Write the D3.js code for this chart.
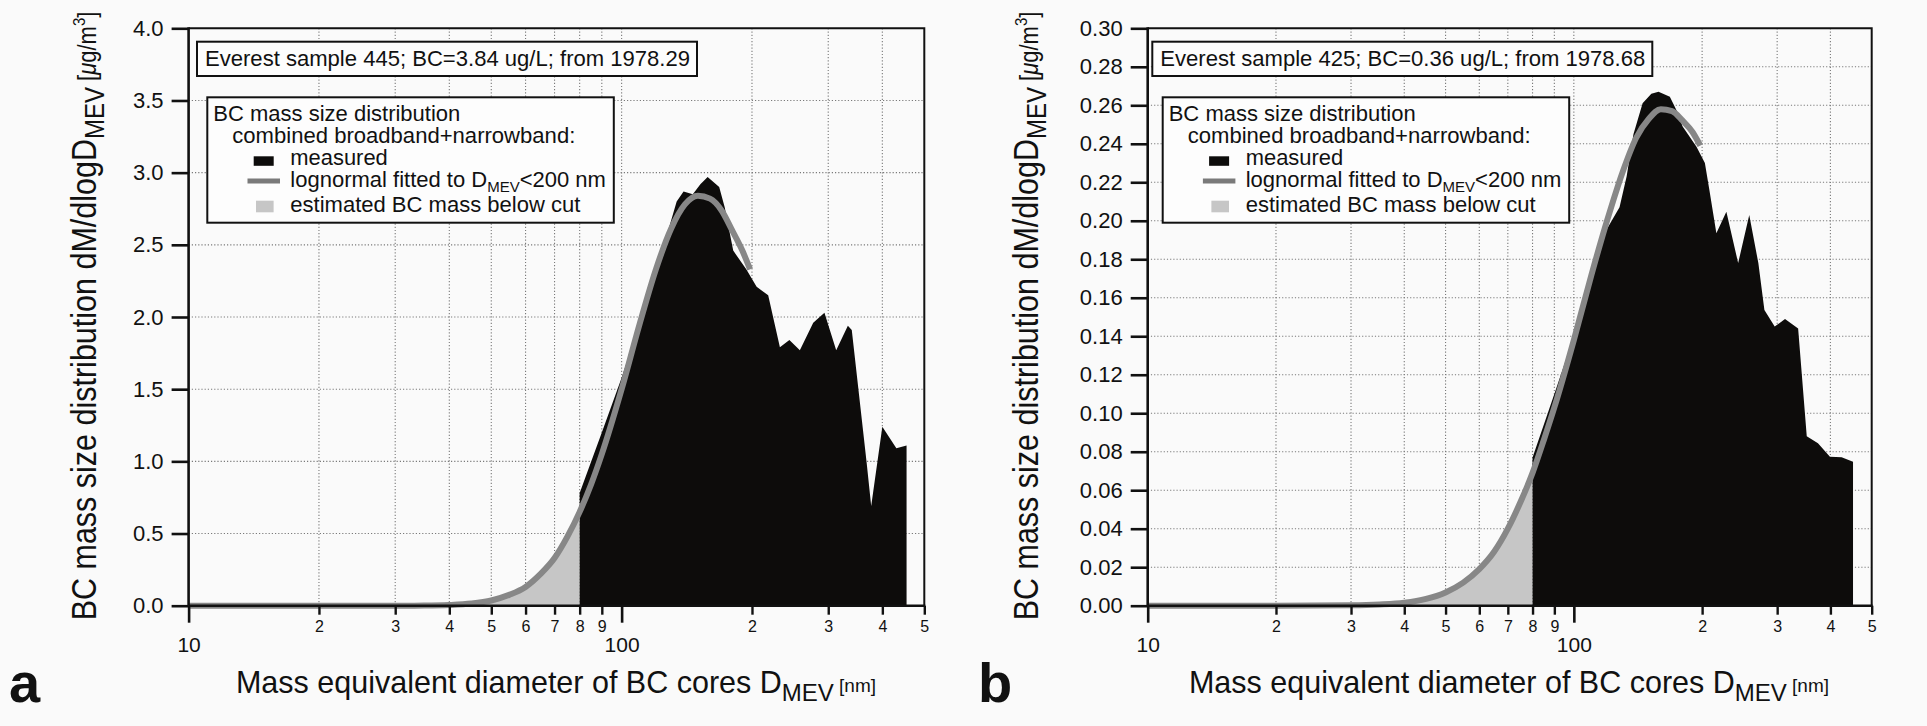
<!DOCTYPE html>
<html>
<head>
<meta charset="utf-8">
<script src="https://cdn.jsdelivr.net/npm/d3@7"></script>
<style>
body { margin: 0; background: #fafafa; }
svg { display: block; font-family: "Liberation Sans", Arial, Helvetica, sans-serif; }
</style>
</head>
<body>
<svg id="chart"></svg>
<script>
// ---- data ----
// panel a: Everest sample 445
const measuredA = [[80,0.78],[90,1.20],[100,1.58],[112,2.03],[122,2.40],[129,2.63],[134,2.80],[139,2.87],
  [146,2.85],[152,2.92],[158,2.97],[168,2.90],[173,2.76],[181,2.46],[194,2.33],[205,2.21],[218,2.15],
  [232,1.79],[244,1.84],[258,1.77],[277,1.96],[294,2.03],[313,1.77],[333,1.94],[340,1.91],[368,0.99],
  [377,0.69],[400,1.24],[431,1.09],[455,1.11]];
const fitA = [[10,0],[20,0],[30,0],[35,0.001],[40,0.005],[45,0.015],[50,0.036],[55,0.075],[60,0.13],
  [65,0.22],[70,0.33],[75,0.48],[80,0.65],[85,0.84],[90,1.05],[100,1.50],[110,1.95],[120,2.33],
  [130,2.61],[140,2.78],[150,2.84],[160,2.82],[170,2.74],[180,2.60],[190,2.46],[198,2.33]];

// panel b: Everest sample 425
const measuredB = [[80,0.077],[90,0.110],[100,0.140],[110,0.168],[119,0.195],[128,0.207],[133,0.223],
  [138,0.245],[145,0.261],[152,0.266],[158,0.267],[168,0.2645],[174,0.2575],[180,0.249],[194,0.2385],
  [203,0.230],[208,0.216],[216,0.1935],[228,0.2047],[243,0.178],[258,0.203],[271,0.178],[280,0.1536],
  [296,0.145],[313,0.149],[336,0.144],[352,0.088],[374,0.0844],[399,0.0774],[425,0.0771],[452,0.0748]];
const fitB = [[10,0],[20,0],[30,0.0002],[35,0.0006],[40,0.0015],[45,0.0035],[50,0.0069],[55,0.012],
  [60,0.019],[65,0.028],[70,0.040],[75,0.054],[80,0.069],[85,0.086],[90,0.103],[100,0.138],[110,0.172],
  [120,0.201],[130,0.225],[140,0.243],[150,0.253],[160,0.258],[170,0.257],[180,0.252],[190,0.246],[198,0.239]];

const cutD = 80;

// ticks
const yTicksA = [0,0.5,1.0,1.5,2.0,2.5,3.0,3.5,4.0];
const yTicksB = [0,0.02,0.04,0.06,0.08,0.10,0.12,0.14,0.16,0.18,0.20,0.22,0.24,0.26,0.28,0.30];
const xMajor = [10,100];
const xMinor = [20,30,40,50,60,70,80,90,200,300,400,500];
const xMinorLabels = ["2","3","4","5","6","7","8","9","2","3","4","5"];

// texts
const titleA = "Everest sample 445; BC=3.84 ug/L; from 1978.29";
const titleB = "Everest sample 425; BC=0.36 ug/L; from 1978.68";
const legendHead = ["BC mass size distribution", "combined broadband+narrowband:"];
const legendItems = ["measured", "lognormal fitted to D", "estimated BC mass below cut"];

// ---- layout ----
const W = 1927, H = 726;
const plotTop = 28.3, plotBottom = 605.7;

const svg = d3.select("#chart").attr("width", W).attr("height", H);

const panels = [
  { label: "a", left: 188.6, right: 924.3, yMax: 4.0, yTicks: yTicksA, fmt: d3.format(".1f"),
    measured: measuredA, fit: fitA, title: titleA, titleX: 197, legendX: 207.3,
    labelX: 9, yTitleX: 96, xTitleX: 556 },
  { label: "b", left: 1147.7, right: 1871.7, yMax: 0.30, yTicks: yTicksB, fmt: d3.format(".2f"),
    measured: measuredB, fit: fitB, title: titleB, titleX: 1152.3, legendX: 1162.7,
    labelX: 978, yTitleX: 1038, xTitleX: 1509 }
];

const ink = "#111";
const fontLg = 22;

// squeeze/stretch a plain text line to the width it has in the figure
function fitWidth(sel, w) {
  sel.attr("textLength", w).attr("lengthAdjust", "spacingAndGlyphs");
  return sel;
}

panels.forEach(p => {
  const g = svg.append("g");
  const x = d3.scaleLog().domain([10, 500]).range([p.left, p.right]);
  const y = d3.scaleLinear().domain([0, p.yMax]).range([plotBottom, plotTop]);

  // dotted grid
  g.append("g").selectAll("line")
    .data(xMinor.filter(d => d < 500).concat([100]))
    .enter().append("line")
    .attr("x1", d => x(d)).attr("x2", d => x(d))
    .attr("y1", plotTop).attr("y2", plotBottom)
    .attr("stroke", "#7a7a7a").attr("stroke-width", 1.1).attr("stroke-dasharray", "1.2,2");
  g.append("g").selectAll("line")
    .data(p.yTicks.slice(1, -1))
    .enter().append("line")
    .attr("x1", p.left).attr("x2", p.right)
    .attr("y1", d => y(d)).attr("y2", d => y(d))
    .attr("stroke", "#7a7a7a").attr("stroke-width", 1.1).attr("stroke-dasharray", "1.2,2");

  // estimated BC mass below cut
  g.append("path")
    .datum(p.fit.filter(d => d[0] <= cutD))
    .attr("d", d3.area().x(d => x(d[0])).y0(plotBottom).y1(d => y(d[1])).curve(d3.curveMonotoneX))
    .attr("fill", "#c6c6c6");

  // measured
  g.append("path")
    .datum(p.measured)
    .attr("d", d3.area().x(d => x(d[0])).y0(plotBottom).y1(d => y(d[1])))
    .attr("fill", "#0d0c0b");

  // lognormal fit
  g.append("path")
    .datum(p.fit)
    .attr("d", d3.line().x(d => x(d[0])).y(d => y(d[1])).curve(d3.curveMonotoneX))
    .attr("fill", "none")
    .attr("stroke", "#878787")
    .attr("stroke-width", 6);

  // frame
  g.append("path")
    .attr("d", `M${p.left},${plotTop}H${p.right}V${plotBottom}`)
    .attr("fill", "none").attr("stroke", ink).attr("stroke-width", 2);

  // y axis
  const yAxis = g.append("g")
    .attr("transform", `translate(${p.left},0)`)
    .call(d3.axisLeft(y).tickValues(p.yTicks).tickFormat(p.fmt).tickSize(17).tickPadding(8));
  yAxis.select(".domain").remove();
  yAxis.selectAll("line").attr("stroke", ink).attr("stroke-width", 2.6);
  yAxis.selectAll("text").attr("font-size", 22).attr("fill", ink).attr("font-family", null);
  g.append("line")
    .attr("x1", p.left).attr("x2", p.left).attr("y1", plotTop - 1).attr("y2", plotBottom)
    .attr("stroke", ink).attr("stroke-width", 2.6);

  // x axis: minor ticks then major ticks
  const xMin = g.append("g")
    .attr("transform", `translate(0,${plotBottom})`)
    .call(d3.axisBottom(x).tickValues(xMinor).tickFormat((d, i) => xMinorLabels[i])
      .tickSize(9).tickSizeOuter(0).tickPadding(6));
  xMin.select(".domain").remove();
  xMin.selectAll("line").attr("stroke", ink).attr("stroke-width", 2.4);
  xMin.selectAll("text").attr("font-size", 16).attr("fill", ink).attr("font-family", null);

  const xMaj = g.append("g")
    .attr("transform", `translate(0,${plotBottom})`)
    .call(d3.axisBottom(x).tickValues(xMajor).tickFormat(d3.format("d"))
      .tickSize(17).tickSizeOuter(0).tickPadding(14));
  xMaj.select(".domain").remove();
  xMaj.selectAll("line").attr("stroke", ink).attr("stroke-width", 2.6);
  xMaj.selectAll("text").attr("font-size", 21).attr("fill", ink).attr("font-family", null);

  g.append("line")
    .attr("x1", p.left).attr("x2", p.right + 1).attr("y1", plotBottom).attr("y2", plotBottom)
    .attr("stroke", ink).attr("stroke-width", 2.4);

  // title box
  const tb = g.append("g").attr("transform", `translate(${p.titleX},41.7)`);
  tb.append("rect").attr("width", 500).attr("height", 34.3)
    .attr("fill", "#fdfdfd").attr("stroke", ink).attr("stroke-width", 2);
  fitWidth(tb.append("text").attr("x", 8).attr("y", 24.5).attr("font-size", 22).attr("fill", ink).text(p.title), 485);

  // legend box
  const lg = g.append("g").attr("transform", `translate(${p.legendX},97.3)`);
  lg.append("rect").attr("width", 406.5).attr("height", 125.4)
    .attr("fill", "#fdfdfd").attr("stroke", ink).attr("stroke-width", 2);
  fitWidth(lg.append("text").attr("x", 6).attr("y", 23.4).attr("font-size", fontLg).attr("fill", ink).text(legendHead[0]), 247);
  fitWidth(lg.append("text").attr("x", 25).attr("y", 45.4).attr("font-size", fontLg).attr("fill", ink).text(legendHead[1]), 343);
  lg.append("rect").attr("x", 46.4).attr("y", 59).attr("width", 20).attr("height", 9.5).attr("fill", "#0d0c0b");
  lg.append("line").attr("x1", 40.2).attr("x2", 72.7).attr("y1", 83.7).attr("y2", 83.7)
    .attr("stroke", "#7a7a7a").attr("stroke-width", 5);
  lg.append("rect").attr("x", 48.7).attr("y", 103.4).attr("width", 17.6).attr("height", 11.6).attr("fill", "#c6c6c6");
  fitWidth(lg.append("text").attr("x", 83).attr("y", 67.7).attr("font-size", fontLg).attr("fill", ink).text(legendItems[0]), 97.5);
  const lt = lg.append("text").attr("x", 83).attr("y", 89.4).attr("font-size", fontLg).attr("fill", ink);
  lt.append("tspan").text(legendItems[1]);
  lt.append("tspan").attr("font-size", 15).attr("dy", 5).text("MEV");
  lt.append("tspan").attr("dy", -5).text("<200 nm");
  fitWidth(lg.append("text").attr("x", 83).attr("y", 114.4).attr("font-size", fontLg).attr("fill", ink).text(legendItems[2]), 290);

  // x axis title
  const xt = g.append("text").attr("x", p.xTitleX).attr("y", 693).attr("text-anchor", "middle")
    .attr("font-size", 30.5).attr("fill", ink);
  xt.append("tspan").text("Mass equivalent diameter of BC cores D");
  xt.append("tspan").attr("font-size", 24).attr("dy", 8).text("MEV");
  xt.append("tspan").attr("font-size", 19).attr("dy", -9).text(" [nm]");

  // y axis title (glyphs a little taller than wide, as in the figure)
  const yt = g.append("text")
    .attr("transform", `translate(${p.yTitleX},316) rotate(-90) scale(1,1.15)`)
    .attr("text-anchor", "middle").attr("font-size", 30.5).attr("fill", ink);
  yt.append("tspan").text("BC mass size distribution dM/dlogD");
  yt.append("tspan").attr("font-size", 24).attr("dy", 7).text("MEV");
  yt.append("tspan").attr("font-size", 22).attr("dy", -7).text(" [");
  yt.append("tspan").attr("font-size", 22).attr("font-style", "italic").text("μ");
  yt.append("tspan").attr("font-size", 22).text("g/m");
  yt.append("tspan").attr("font-size", 15).attr("dy", -10).text("3");
  yt.append("tspan").attr("font-size", 22).attr("dy", 10).text("]");

  // panel letter
  g.append("text").attr("x", p.labelX).attr("y", 702).attr("font-size", 56)
    .attr("font-weight", "bold").attr("fill", ink).text(p.label);
});
</script>
</body>
</html>
